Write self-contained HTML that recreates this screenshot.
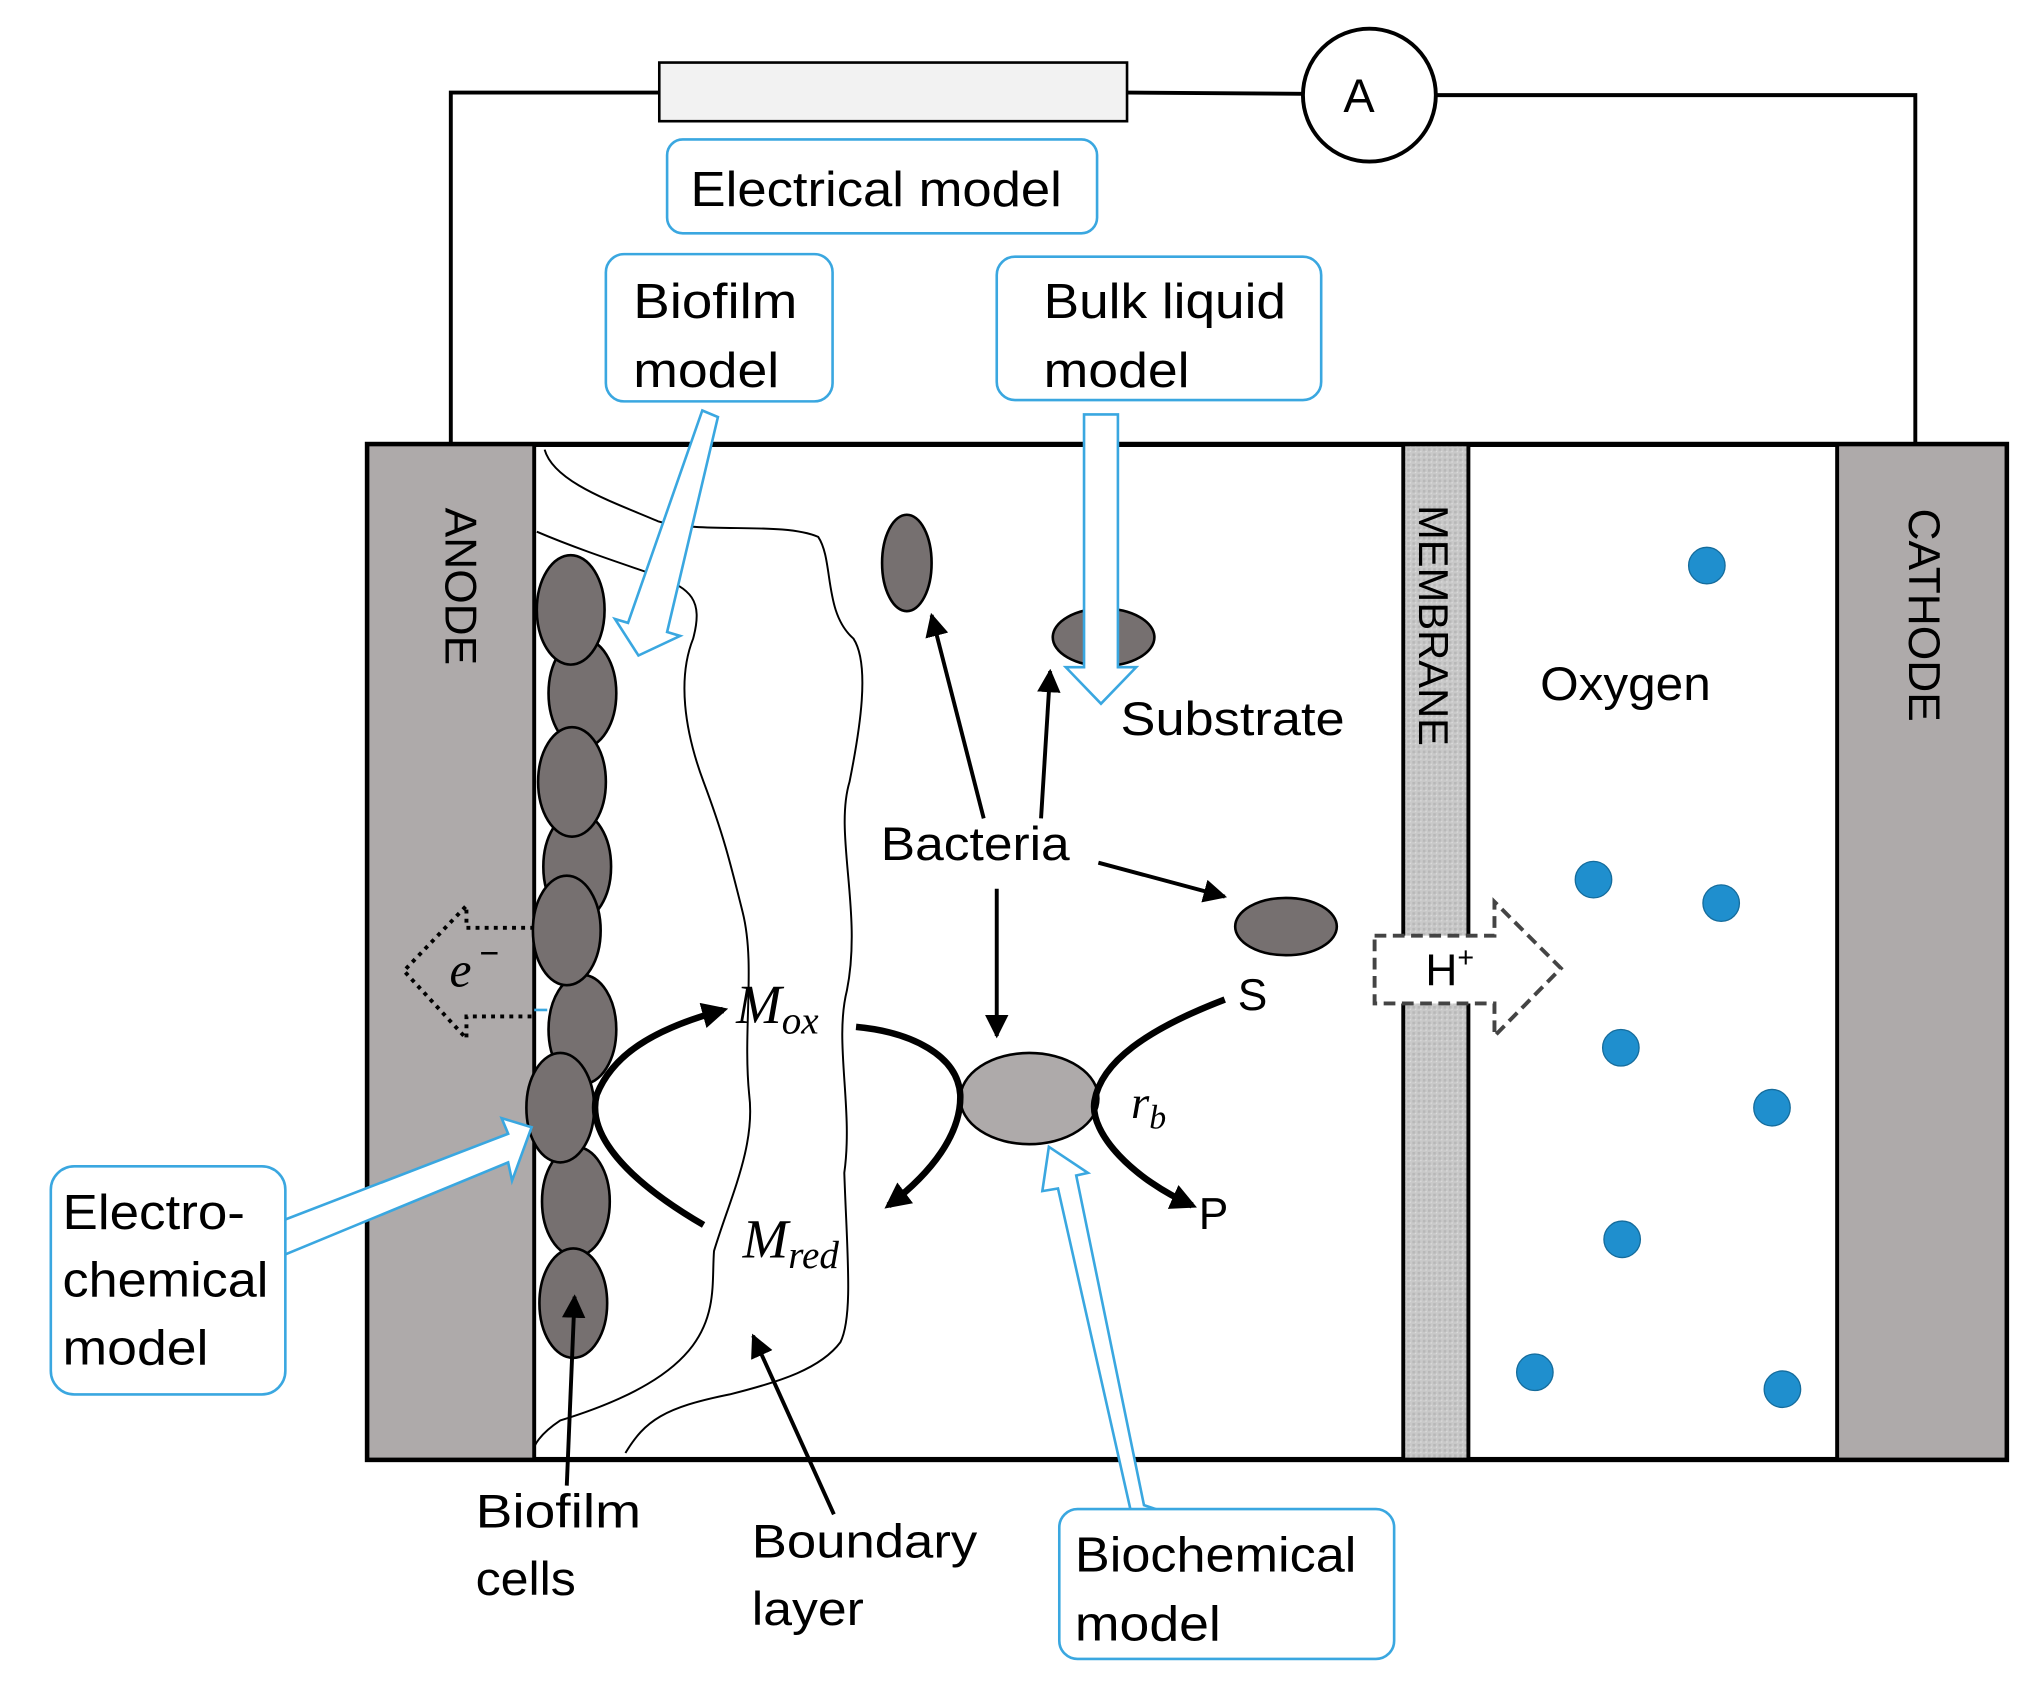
<!DOCTYPE html>
<html><head><meta charset="utf-8"><style>html,body{margin:0;padding:0;background:#fff}svg{display:block}</style></head>
<body>
<svg width="2043" height="1685" viewBox="0 0 1568 1293" preserveAspectRatio="none" xmlns="http://www.w3.org/2000/svg" font-family="Liberation Sans, DejaVu Sans, sans-serif">
<defs>
<pattern id="mem" width="4" height="4" patternUnits="userSpaceOnUse"><rect width="4" height="4" fill="#c9c9c9"/><rect width="2" height="2" fill="#b8b8b8"/><rect x="2" y="2" width="1" height="1" fill="#dedede"/></pattern>
<marker id="ah" viewBox="0 0 10 10" refX="9" refY="5" markerWidth="6" markerHeight="6" orient="auto"><path d="M0,0 L10,5 L0,10 z" fill="#000"/></marker>
<marker id="ahb" viewBox="0 0 10 10" refX="8" refY="5" markerWidth="4" markerHeight="4" orient="auto"><path d="M0,0 L10,5 L0,10 z" fill="#000"/></marker>
</defs>
<polyline points="346,340 346,71 506,71" fill="none" stroke="#000" stroke-width="3"/>
<line x1="865" y1="71" x2="1000" y2="72" stroke="#000" stroke-width="3"/>
<polyline points="1102,73 1470,73 1470,340" fill="none" stroke="#000" stroke-width="3"/>
<rect x="506" y="48" width="359" height="45" fill="#f2f2f2" stroke="#000" stroke-width="2"/>
<circle cx="1051" cy="73" r="51" fill="#fff" stroke="#000" stroke-width="3"/>
<text x="1043" y="86" font-size="36" text-anchor="middle">A</text>
<rect x="282" y="341" width="1258" height="779" fill="#fff" stroke="#000" stroke-width="4"/>
<rect x="282" y="341" width="128" height="779" fill="#aeaaaa" stroke="#000" stroke-width="3"/>
<rect x="1077" y="341" width="50" height="779" fill="url(#mem)" stroke="#000" stroke-width="3"/>
<rect x="1410" y="341" width="130" height="779" fill="#aeaaaa" stroke="#000" stroke-width="3"/>
<text transform="translate(342,450) rotate(90)" font-size="34" text-anchor="middle">ANODE</text>
<text transform="translate(1089,480) rotate(90)" font-size="32" text-anchor="middle">MEMBRANE</text>
<text transform="translate(1465,472) rotate(90)" font-size="34" text-anchor="middle">CATHODE</text>
<text x="1182" y="537" font-size="36" textLength="131" lengthAdjust="spacingAndGlyphs">Oxygen</text>
<g fill="#1f8fce" stroke="#156c9c" stroke-width="1">
<circle cx="1310" cy="434" r="14"/><circle cx="1223" cy="675" r="14"/><circle cx="1321" cy="693" r="14"/><circle cx="1244" cy="804" r="14"/><circle cx="1360" cy="850" r="14"/><circle cx="1245" cy="951" r="14"/><circle cx="1178" cy="1053" r="14"/><circle cx="1368" cy="1066" r="14"/>
</g>
<path d="M418,345 C425,370 470,385 505,400 C540,410 600,400 628,412 C640,430 632,470 655,490 C668,510 660,560 652,600 C640,640 662,700 650,760 C640,800 655,850 648,900 C650,960 655,1010 645,1030 C630,1050 600,1060 560,1070 C510,1080 495,1090 480,1115" fill="none" stroke="#000" stroke-width="1.5"/>
<path d="M412,408 C440,420 470,430 505,442 C530,452 540,460 532,490 C520,520 525,560 540,600 C555,640 560,660 570,700 C580,740 570,790 575,840 C580,880 560,920 548,960 C545,1000 560,1050 430,1090 C415,1100 408,1110 410,1115" fill="none" stroke="#000" stroke-width="1.5"/>
<path d="M410,712 L358,712 L358,695 L310,745 L358,797 L358,780 L410,780" fill="none" stroke="#000" stroke-width="3" stroke-dasharray="3,4"/>
<text x="345" y="757" font-size="38" font-style="italic" font-family="Liberation Serif, serif">e</text>
<text x="368" y="740" font-size="26">−</text>
<line x1="410" y1="775" x2="420" y2="775" stroke="#3aa7e0" stroke-width="2"/>
<g fill="#767070" stroke="#000" stroke-width="2">
<ellipse cx="447" cy="532" rx="26" ry="42"/>
<ellipse cx="443" cy="665" rx="26" ry="42"/>
<ellipse cx="447" cy="790" rx="26" ry="42"/>
<ellipse cx="442" cy="922" rx="26" ry="42"/>
<ellipse cx="438" cy="468" rx="26" ry="42"/>
<ellipse cx="439" cy="600" rx="26" ry="42"/>
<ellipse cx="435" cy="714" rx="26" ry="42"/>
<ellipse cx="430" cy="850" rx="26" ry="42"/>
<ellipse cx="440" cy="1000" rx="26" ry="42"/>
</g>
<g fill="#767070" stroke="#000" stroke-width="2">
<ellipse cx="696" cy="432" rx="19" ry="37"/>
<ellipse cx="847" cy="489" rx="39" ry="22"/>
<ellipse cx="987" cy="711" rx="39" ry="22"/>
</g>
<ellipse cx="790" cy="843" rx="53" ry="35" fill="#aeaaaa" stroke="#000" stroke-width="2"/>
<path d="M540,940 C480,905 450,870 458,840 C470,810 500,790 555,775" fill="none" stroke="#000" stroke-width="5" marker-end="url(#ahb)"/>
<path d="M657,788 C700,792 735,810 737,840 C738,870 715,900 682,925" fill="none" stroke="#000" stroke-width="5" marker-end="url(#ahb)"/>
<path d="M940,767 C880,790 845,815 840,845 C836,870 870,905 915,925" fill="none" stroke="#000" stroke-width="5" marker-end="url(#ahb)"/>
<line x1="755" y1="628" x2="715" y2="472" stroke="#000" stroke-width="3" marker-end="url(#ah)"/>
<line x1="799" y1="628" x2="806" y2="515" stroke="#000" stroke-width="3" marker-end="url(#ah)"/>
<line x1="843" y1="662" x2="940" y2="688" stroke="#000" stroke-width="3" marker-end="url(#ah)"/>
<line x1="765" y1="682" x2="765" y2="795" stroke="#000" stroke-width="3" marker-end="url(#ah)"/>
<line x1="640" y1="1162" x2="578" y2="1025" stroke="#000" stroke-width="3" marker-end="url(#ah)"/>
<line x1="435" y1="1140" x2="441" y2="995" stroke="#000" stroke-width="3" marker-end="url(#ah)"/>
<g lengthAdjust="spacingAndGlyphs">
<text x="860" y="564" font-size="36" textLength="172" lengthAdjust="spacingAndGlyphs">Substrate</text>
<text x="676" y="660" font-size="36" textLength="145" lengthAdjust="spacingAndGlyphs">Bacteria</text>
<text x="365" y="1172" font-size="36" textLength="127" lengthAdjust="spacingAndGlyphs">Biofilm</text>
<text x="365" y="1224" font-size="36" textLength="77" lengthAdjust="spacingAndGlyphs">cells</text>
<text x="577" y="1195" font-size="36" textLength="173" lengthAdjust="spacingAndGlyphs">Boundary</text>
<text x="577" y="1247" font-size="36" textLength="86" lengthAdjust="spacingAndGlyphs">layer</text>
</g>
<text x="950" y="775" font-size="34">S</text>
<text x="920" y="943" font-size="34">P</text>
<text x="868" y="858" font-size="36" font-style="italic" font-family="Liberation Serif, serif">r<tspan font-size="26" dy="8">b</tspan></text>
<text x="565" y="785" font-size="42" font-style="italic" font-family="Liberation Serif, serif">M<tspan font-size="30" dy="8">ox</tspan></text>
<text x="570" y="965" font-size="42" font-style="italic" font-family="Liberation Serif, serif">M<tspan font-size="30" dy="8">red</tspan></text>
<path d="M1055,718 L1147,718 L1147,692 L1198,743 L1147,795 L1147,770 L1055,770 Z" fill="#fff" stroke="#444" stroke-width="3" stroke-dasharray="9,5"/>
<text x="1094" y="756" font-size="34">H<tspan font-size="22" dy="-14">+</tspan></text>
<g fill="#fff" stroke="#3aa7e0" stroke-width="2">
<path d="M539,315 L551,320 L512,485 L522,488 L490,503 L472,475 L482,478 Z"/>
<path d="M832,318 L858,318 L858,512 L872,512 L845,540 L818,512 L832,512 Z"/>
<path d="M208,940 L390,870 L385,858 L408,865 L393,906 L390,892 L218,963 Z"/>
<path d="M893,1160 L868,1160 L812,912 L800,914 L805,880 L835,900 L826,902 L878,1155 Z"/>
</g>
<g fill="#fff" stroke="#3aa7e0" stroke-width="2">
<rect x="512" y="107" width="330" height="72" rx="12"/>
<rect x="465" y="195" width="174" height="113" rx="14"/>
<rect x="765" y="197" width="249" height="110" rx="14"/>
<rect x="39" y="895" width="180" height="175" rx="18"/>
<rect x="813" y="1158" width="257" height="115" rx="14"/>
</g>
<g font-size="38">
<text x="530" y="158" textLength="285" lengthAdjust="spacingAndGlyphs">Electrical model</text>
<text x="486" y="244" textLength="126" lengthAdjust="spacingAndGlyphs">Biofilm</text>
<text x="486" y="297" textLength="112" lengthAdjust="spacingAndGlyphs">model</text>
<text x="801" y="244" textLength="186" lengthAdjust="spacingAndGlyphs">Bulk liquid</text>
<text x="801" y="297" textLength="112" lengthAdjust="spacingAndGlyphs">model</text>
<text x="48" y="943" textLength="140" lengthAdjust="spacingAndGlyphs">Electro-</text>
<text x="48" y="995" textLength="158" lengthAdjust="spacingAndGlyphs">chemical</text>
<text x="48" y="1047" textLength="112" lengthAdjust="spacingAndGlyphs">model</text>
<text x="825" y="1206" textLength="216" lengthAdjust="spacingAndGlyphs">Biochemical</text>
<text x="825" y="1259" textLength="112" lengthAdjust="spacingAndGlyphs">model</text>
</g>
</svg>
</body></html>
